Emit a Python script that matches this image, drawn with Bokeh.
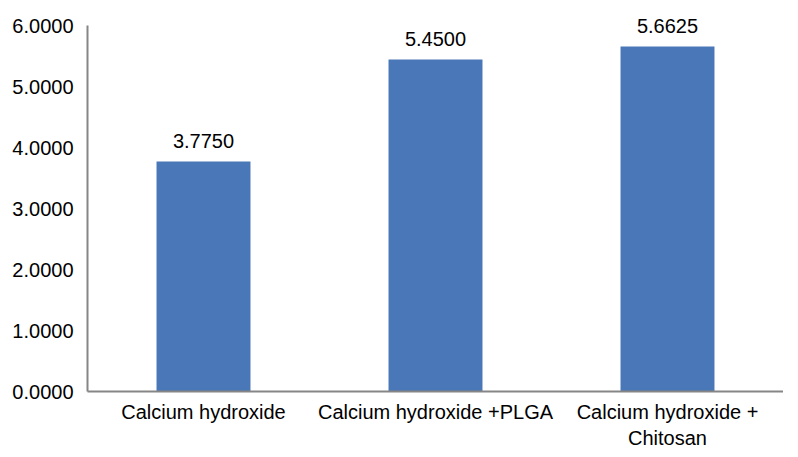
from bokeh.plotting import figure
from bokeh.models import ColumnDataSource, Range1d, FactorRange, NumeralTickFormatter
from bokeh.core.properties import value
from bokeh.embed import file_html
from bokeh.resources import INLINE

categories = ["Calcium hydroxide", "Calcium hydroxide +PLGA", "Calcium hydroxide +\nChitosan"]
values = [3.7750, 5.4500, 5.6625]
value_labels = ["3.7750", "5.4500", "5.6625"]
y_ticks = [0, 1, 2, 3, 4, 5, 6]

FONT = "Liberation Sans"
FS = "20px"

source = ColumnDataSource(data=dict(cat=categories, val=values, lab=value_labels))

p = figure(x_range=FactorRange(*categories), y_range=Range1d(0, 6.4),
           frame_width=696, frame_height=390,
           output_backend="svg", toolbar_location=None,
           min_border_left=87, min_border_right=0, min_border_top=1, min_border_bottom=58)

p.vbar(x="cat", top="val", width=0.405, source=source, fill_color="#4A77B8", line_color=None)
p.text(x="cat", y="val", text="lab", source=source, text_align="center",
       text_baseline="bottom", y_offset=-13, text_font=value(FONT),
       text_font_size=FS, text_color="#000000")

p.outline_line_color = None
p.xgrid.grid_line_color = None
p.ygrid.grid_line_color = None
p.x_range.range_padding = 0
p.x_range.group_padding = 0

p.yaxis.ticker = y_ticks
p.yaxis.bounds = (0, 6)
p.yaxis.formatter = NumeralTickFormatter(format="0.0000")
p.yaxis.major_tick_line_color = None
p.yaxis.minor_tick_line_color = None
p.yaxis.axis_line_color = "#868686"
p.yaxis.axis_line_width = 2
p.yaxis.major_label_standoff = 8
p.yaxis.major_label_text_font = FONT
p.yaxis.major_label_text_font_size = FS
p.yaxis.major_label_text_color = "#000000"

p.xaxis.major_tick_line_color = None
p.xaxis.minor_tick_line_color = None
p.xaxis.axis_line_color = "#868686"
p.xaxis.axis_line_width = 2
p.xaxis.major_label_standoff = 3
p.xaxis.major_label_text_font = FONT
p.xaxis.major_label_text_font_size = FS
p.xaxis.major_label_text_color = "#000000"

open("out.html", "w").write(file_html(p, INLINE))
